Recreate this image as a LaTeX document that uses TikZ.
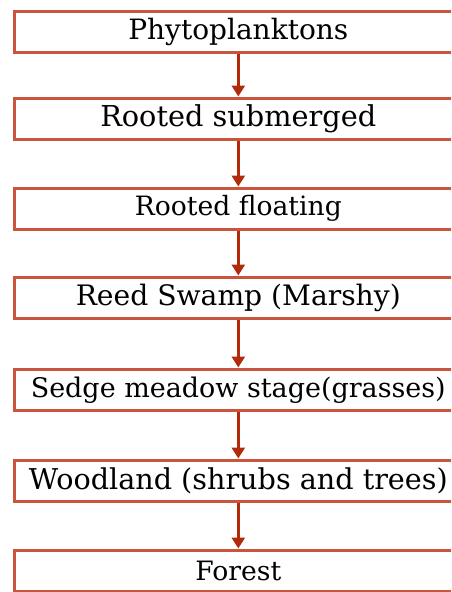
\documentclass[tikz,border=0pt]{standalone}
\usepackage{fontspec}
\setmainfont{DejaVu Serif}
\usetikzlibrary{arrows.meta}
\definecolor{boxline}{RGB}{200,85,60}
\definecolor{arrowred}{RGB}{178,42,12}
% set a label at a given printed width
\newcommand{\fitlabel}[2]{\resizebox{#1}{!}{#2}}
\begin{document}
\begin{tikzpicture}[x=1pt,y=1pt,
  stage/.style={draw=boxline, line width=2.6pt, fill=white,
    minimum width=448pt, minimum height=41pt, inner sep=0pt, anchor=north west},
  flow/.style={draw=arrowred, line width=3pt,
    -{Triangle[length=11pt,width=13pt]}, shorten >=0.5pt}]
\useasboundingbox (0,0) rectangle (451,-592);
\clip (0,0) rectangle (451,-592);
% succession stages, top to bottom
\node[stage] (s1) at (13,-10)  {\fitlabel{220pt}{Phytoplanktons}};
\node[stage] (s2) at (13,-97)  {\fitlabel{276pt}{Rooted submerged}};
\node[stage] (s3) at (13,-187) {\fitlabel{207pt}{Rooted floating}};
\node[stage] (s4) at (13,-276) {\fitlabel{325pt}{Reed Swamp (Marshy)}};
\node[stage] (s5) at (13,-368) {\fitlabel{415pt}{Sedge meadow stage(grasses)}};
\node[stage] (s6) at (13,-459) {\fitlabel{419pt}{Woodland (shrubs and trees)}};
\node[stage] (s7) at (13,-549) {\fitlabel{86pt}{Forest}};
% arrows between consecutive stages
\foreach \a/\b in {s1/s2,s2/s3,s3/s4,s4/s5,s5/s6,s6/s7}
  \draw[flow] (\a.south) -- (\b.north);
\end{tikzpicture}
\end{document}
